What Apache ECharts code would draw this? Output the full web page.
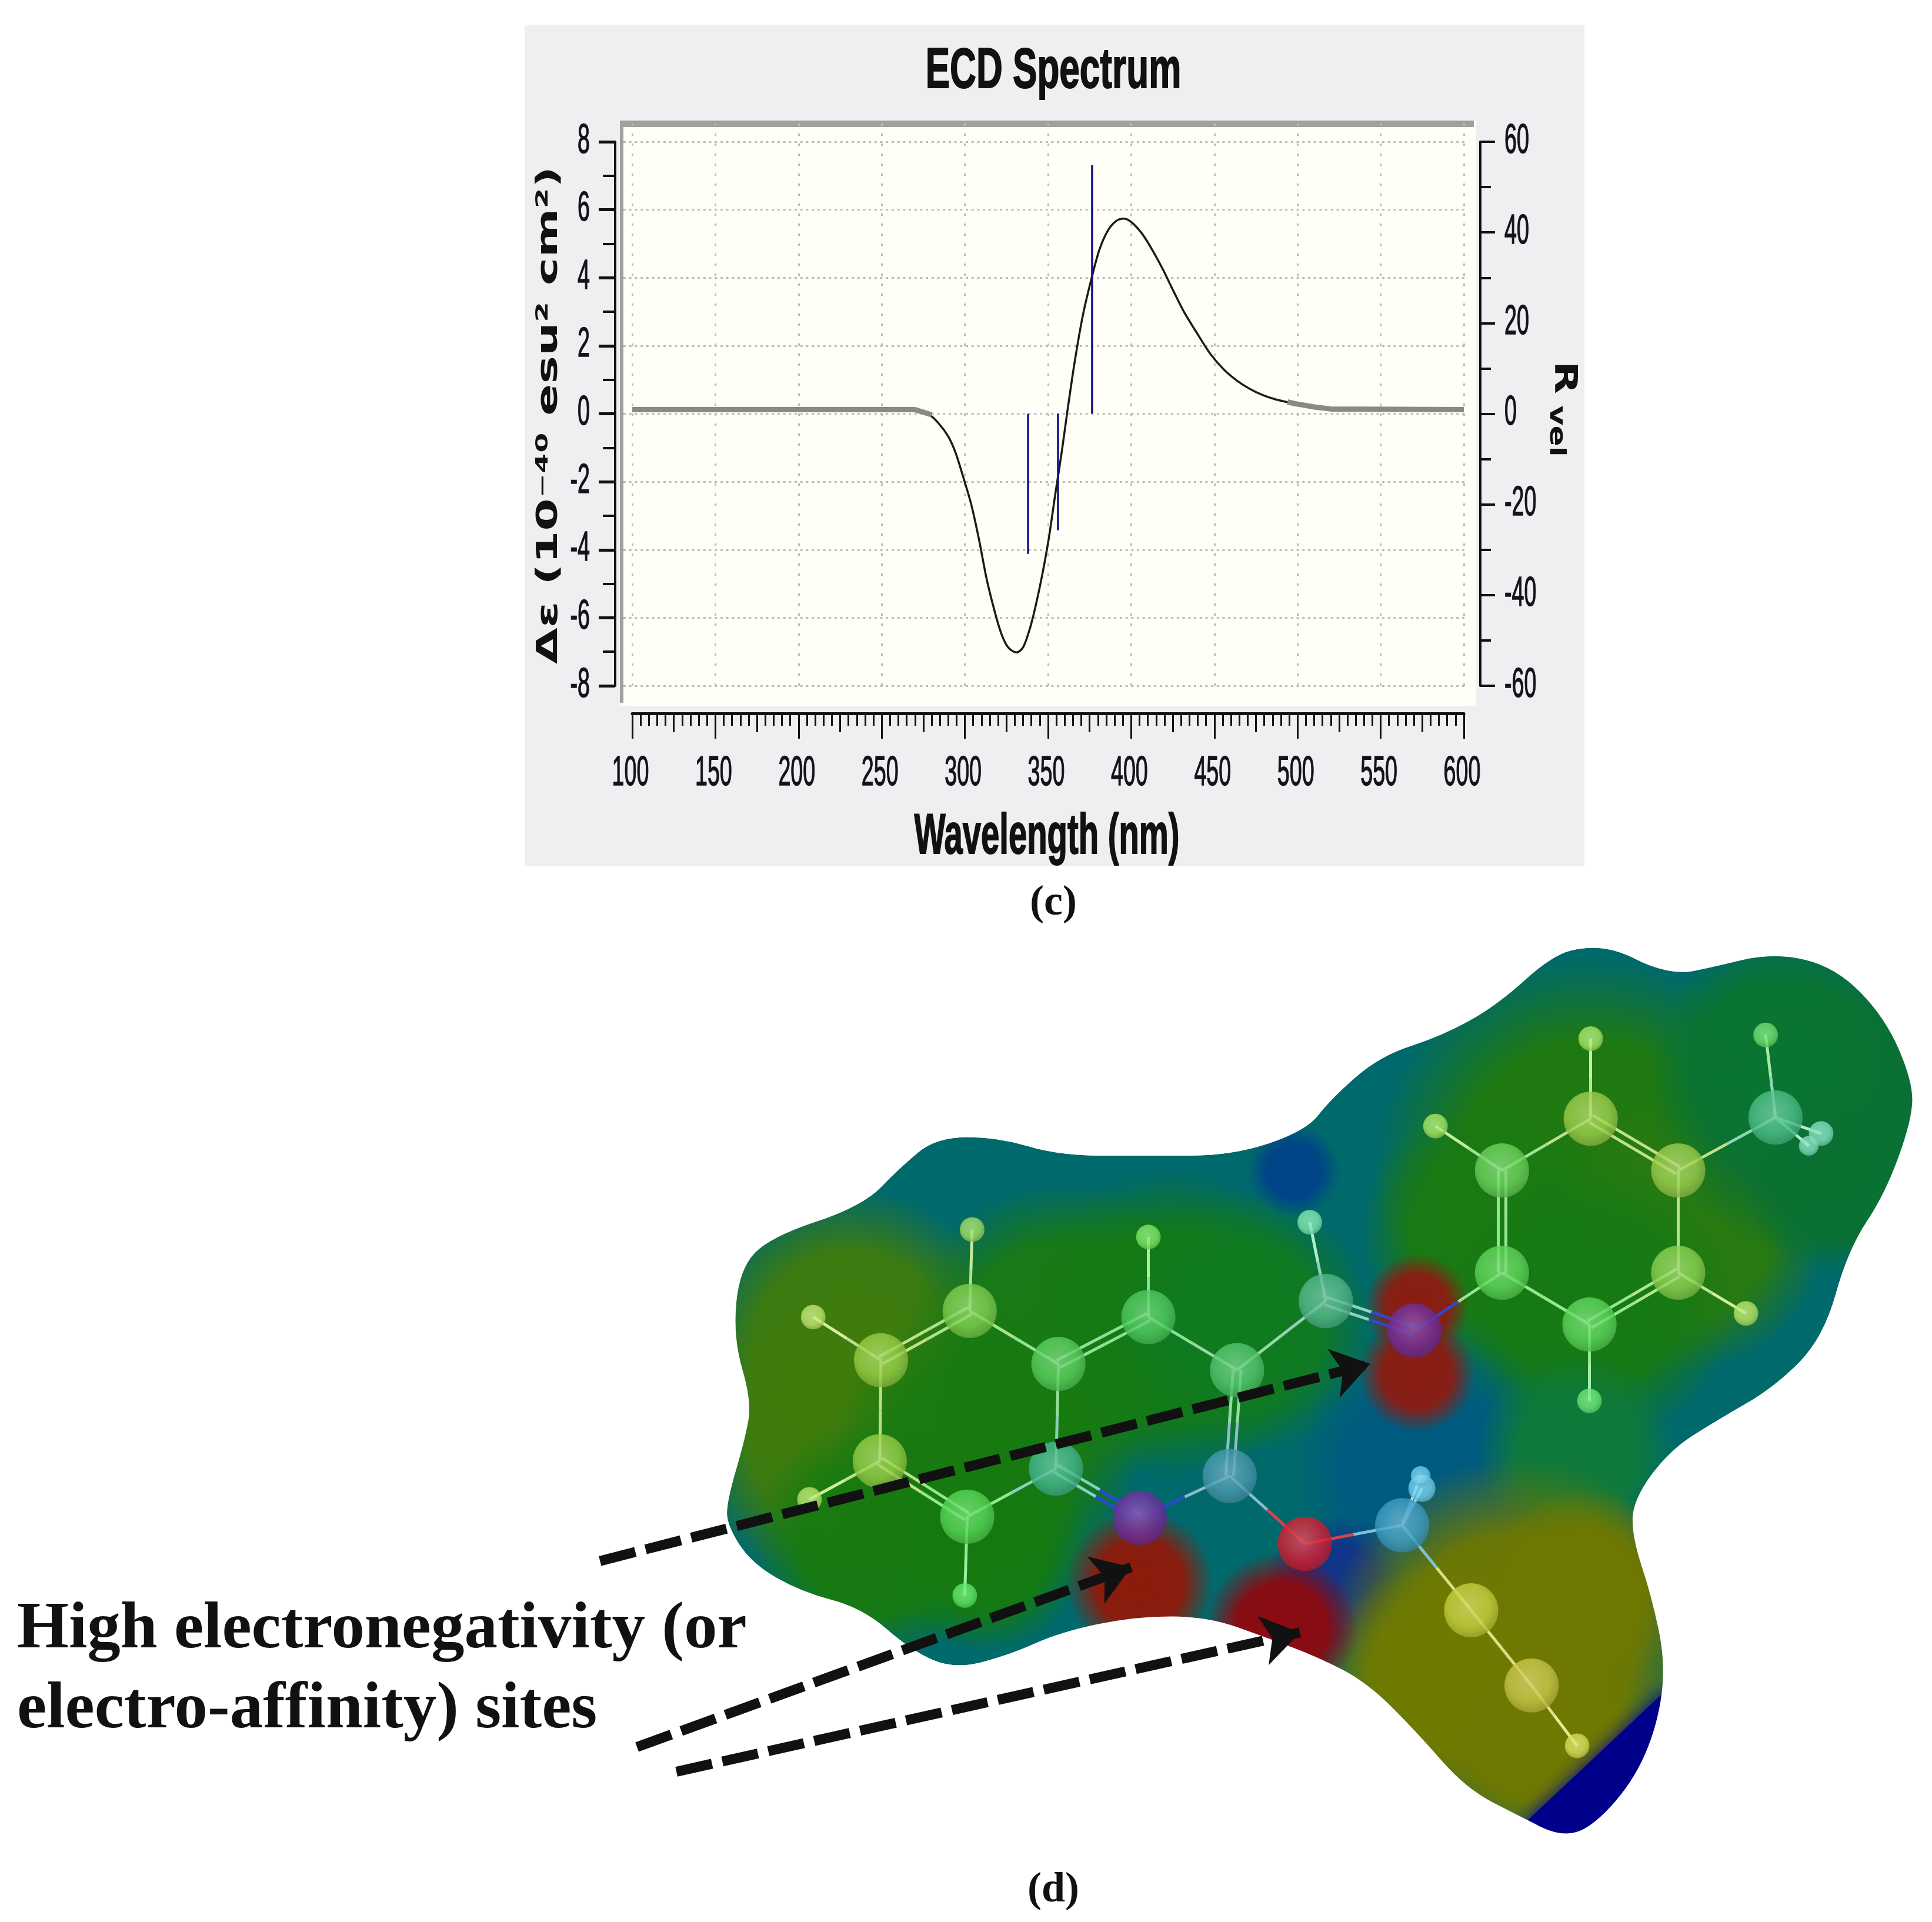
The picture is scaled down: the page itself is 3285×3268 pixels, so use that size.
<!DOCTYPE html>
<html><head><meta charset="utf-8">
<style>html,body{margin:0;padding:0;background:#fff}#c{width:3285px;height:3268px}</style>
<script src="https://cdn.jsdelivr.net/npm/echarts@6/dist/echarts.min.js"></script>
</head><body><div id="c"></div>
<script>
// ---------- ECD spectrum data ----------
const wavelength=[270,278,284,290,294.5,299,304,308.7,313,318,322,326,331,335,339,342.6,346.5,350.5,354.4,358.4,361.5,366,371,376.5,381,386,391,395.5,400,406.6,413,419,425.5,431.7,439.7,447.6,455.5,463.4,471,479,487,498,510,520];
const deltaEps=[0.12,-0.01,-0.27,-0.67,-1.16,-1.86,-2.7,-3.75,-4.84,-5.83,-6.48,-6.87,-7.02,-6.87,-6.33,-5.64,-4.74,-3.65,-2.35,-1.07,0.03,1.52,2.91,4.05,4.84,5.39,5.67,5.74,5.64,5.29,4.79,4.25,3.6,3.0,2.36,1.76,1.31,0.98,0.74,0.55,0.42,0.3,0.2,0.14];
const tailLeftX=[100,270,280], tailLeftY=[0.12,0.12,-0.03];
const tailRightX=[494,498,510,520,600], tailRightY=[0.35,0.3,0.2,0.14,0.12];
const stickX=[338,356,376.5], stickR=[-30.9,-25.7,54.8];
const xTicks=[100,150,200,250,300,350,400,450,500,550,600];
const leftTicks=[8,6,4,2,0,-2,-4,-6,-8];
const rightTicks=[60,40,20,0,-20,-40,-60];

// ---------- molecule in its own units ----------
const surfaceX=[1290,1315,1340,1365,1385,1440,1490,1530,1552,1552,1530,1500,1480,1440,1395,1355,1325,1325,1340,1352,1345,1325,1290,1265,1235,1190,1150,1110,1070,1030,980,920,860,820,775,740,700,650,610,590,590,605,610,595,600,625,700,730,760,810,860,930,1000,1060,1080,1120,1170,1215,1260];
const surfaceY=[768,772,785,790,786,773,785,826,877,908,969,1014,1086,1126,1152,1177,1218,1249,1294,1350,1401,1447,1485,1490,1475,1452,1406,1366,1345,1330,1312,1312,1325,1343,1355,1340,1305,1292,1269,1238,1218,1167,1137,1086,1030,1004,979,948,923,923,938,938,938,918,892,857,841,816,775];
const patchX=[690,680,860,950,800,710,800,1010,1290,1210,1370,1470,1440,1290,1490,1155,1280,1085,1050,1230,1170,1285,1250,1150,1150,925,1040];
const patchY=[1095,1170,1085,1075,1180,1250,1260,1075,950,1000,1000,890,860,1055,960,1195,1180,1290,950,1340,1360,1290,1410,1060,1115,1285,1322];
const patchR=[105,95,100,100,100,80,65,85,140,85,90,105,80,95,60,85,65,48,30,125,75,65,70,34,38,48,50];
const patchColor=['#3f7c0c','#3f7c0c','#1a7a14','#147a14','#177a10','#177a10','#147a10','#107a20','#207a0e','#1a7a12','#2a7a10','#0a7032','#0a7432','#167a14','#0a7032','#005a80','#0f7a3a','#10348a','#004488','#6f7800','#6f7a00','#6f7800','#6f7800','#8c1c12','#8c1c12','#8e1a0a','#8c0a10'];
const blueCornerX=[1235,1352,1400,1300], blueCornerY=[1482,1372,1420,1505];
const atomX=[1291,1219,1362,1219,1362,1290,1291,1165,1417,1290,1441,1433,1478,1468,1076,1063,1148,1004,932,932,859,787,789,715,660,714,657,785,783,857,925,998,1059,1138,1154,1153,1194,1243,1280];
const atomY=[908,950,950,1033,1033,1075,843,914,1066,1137,907,840,920,930,1056,992,1080,1112,1069,1004,1107,1064,998,1104,1069,1186,1217,1231,1295,1192,1232,1198,1253,1238,1208,1198,1307,1368,1417];
const atomR=[22,22,22,22,22,22,10,10,10,10,22,10,10,8,22,10,22,22,22,10,22,22,10,22,10,22,10,22,10,22,22,22,22,22,11,8,22,22,10];
const atomColor=['#9ed04c','#6cd45e','#9dd04e','#5fd75a','#8dd452','#5ed85c','#a8e868','#a8e868','#b8e868','#6ce878','#4fc08a','#70e070','#80e0c0','#80e0c0','#55b890','#80e8b0','#7030a0','#55c870','#50cc60','#80e868','#5cd060','#80d050','#a0e060','#98d048','#c0e870','#98d048','#b8e868','#58d858','#60e868','#45b890','#7030a0','#4a9ab0','#d82030','#40a0c8','#70d0f0','#70d0f0','#c8d040','#c8c848','#d8e058'];
const bondFrom=[0,0,0,1,1,2,2,3,3,4,4,5,10,10,10,14,14,14,17,17,18,18,20,20,21,21,23,23,25,25,27,27,29,30,31,32,33,33,33,36,37];
const bondTo  =[1,2,6,3,7,4,10,5,16,5,8,9,11,12,13,15,16,17,18,31,19,20,21,29,22,23,24,25,26,27,28,29,30,31,32,33,34,35,36,37,38];
const bondDouble=[[0,2],[1,3],[4,5],[14,16],[17,31],[18,20],[21,23],[25,27],[29,30]];
const arrowFrom=[[487,1267],[517,1418],[549,1438]];
const arrowTo=[[1112,1107],[918,1272],[1055,1325]];

// ---------- helpers ----------
const ink='#101010';
function hex(c){return [1,3,5].map(i=>parseInt(c.substr(i,2),16));}
function mix(c,t,f){const a=hex(c),b=hex(t);return 'rgb('+a.map((v,i)=>Math.round(v+(b[i]-v)*f)).join(',')+')';}
function smoothPath(xs,ys,api){
  const p=xs.map((x,i)=>api.coord([x,ys[i]])),n=p.length;
  const mid=(a,b)=>[(a[0]+b[0])/2,(a[1]+b[1])/2];
  const s=mid(p[n-1],p[0]);
  let d='M'+s[0]+' '+s[1];
  for(let i=0;i<n;i++){const m=mid(p[i],p[(i+1)%n]);d+=' Q'+p[i][0]+' '+p[i][1]+' '+m[0]+' '+m[1];}
  return d+' Z';
}
function tickText(text,x,y,align){
  return {type:'text',x:x,y:y,scaleX:0.53,silent:true,
    style:{text:String(text),font:'71px "Liberation Sans"',fill:'#141418',stroke:'#141418',lineWidth:1.5,textAlign:align,textVerticalAlign:'middle'}};
}
const dotH=[4,5.7], dotV=[4,13];
const gridGray='#bdbdb2';
const bonds=[];
bondFrom.forEach((a,i)=>{
  const b=bondTo[i];
  const dbl=bondDouble.some(d=>d[0]===a&&d[1]===b);
  const dx=atomX[b]-atomX[a],dy=atomY[b]-atomY[a],L=Math.hypot(dx,dy);
  const offs=dbl?[[ -dy/L*3.2, dx/L*3.2],[ dy/L*3.2,-dx/L*3.2]]:[[0,0]];
  const bondCol=k=>atomColor[k]==='#7030a0'?'#3048d0':atomColor[k]==='#d82030'?'#e04048':mix(atomColor[k],'#ffffff',0.35);
  offs.forEach(o=>{
    const m=[(atomX[a]+atomX[b])/2+o[0],(atomY[a]+atomY[b])/2+o[1]];
    bonds.push({coords:[[atomX[a]+o[0],atomY[a]+o[1]],m],lineStyle:{color:bondCol(a)}});
    bonds.push({coords:[m,[atomX[b]+o[0],atomY[b]+o[1]]],lineStyle:{color:bondCol(b)}});
  });
});
const atoms=atomX.map((x,i)=>({value:[x,atomY[i]],symbolSize:atomR[i]*2*2.095,
  itemStyle:{color:{type:'radial',x:0.46,y:0.42,r:0.58,colorStops:[
    {offset:0,color:mix(atomColor[i],'#ffffff',0.22)},{offset:0.65,color:atomColor[i]},{offset:1,color:mix(atomColor[i],'#000000',0.18)}]}}}));

const hideAxis={axisLine:{show:false},axisTick:{show:false},axisLabel:{show:false},splitLine:{show:false}};
const option={
  animation:false,backgroundColor:'#ffffff',
  grid:[
    {left:1075,width:1414,top:241,height:925},
    {left:1075,width:1414,top:210,height:968},
    {left:1060,width:1431,top:241,height:925},
    {left:0,width:3285,top:0,height:3268}
  ],
  xAxis:[
    {gridIndex:0,type:'value',min:100,max:600,interval:25,position:'bottom',offset:47,
      axisLine:{onZero:false,lineStyle:{color:ink,width:5}},
      axisTick:{length:32,lineStyle:{color:ink,width:3}},
      minorTick:{show:true,splitNumber:5,length:21,lineStyle:{color:ink,width:3}},
      axisLabel:{show:false},splitLine:{show:false}},
    {gridIndex:0,type:'value',min:100,max:600,interval:50,position:'bottom',offset:47,
      axisLine:{show:false,onZero:false},axisTick:{length:43,lineStyle:{color:ink,width:3}},
      axisLabel:{show:false},splitLine:{show:false}},
    {gridIndex:1,type:'value',min:100,max:600,interval:50,position:'bottom',
      axisLine:{show:false,onZero:false},axisTick:{show:false},axisLabel:{show:false},
      splitLine:{show:true,lineStyle:{color:gridGray,width:3,type:dotV}}},
    {gridIndex:2,type:'value',min:0,max:1,...hideAxis},
    {gridIndex:3,type:'value',min:0,max:1568,show:false},
  ],
  yAxis:[
    {gridIndex:0,type:'value',min:-8,max:8,interval:2,position:'left',offset:29,
      axisLine:{show:true,onZero:false,lineStyle:{color:ink,width:4}},
      axisTick:{show:true,length:28,lineStyle:{color:ink,width:5}},
      minorTick:{show:true,splitNumber:2,length:21,lineStyle:{color:ink,width:4}},
      axisLabel:{show:false},splitLine:{show:false}},
    {gridIndex:0,type:'value',min:-60,max:60,interval:20,position:'right',offset:28,
      axisLine:{show:true,onZero:false,lineStyle:{color:ink,width:4}},
      axisTick:{show:true,length:25,lineStyle:{color:ink,width:4}},
      minorTick:{show:true,splitNumber:2,length:18,lineStyle:{color:ink,width:4}},
      axisLabel:{show:false},splitLine:{show:false}},
    {gridIndex:1,type:'value',min:0,max:1,...hideAxis},
    {gridIndex:2,type:'value',min:-8,max:8,interval:2,
      axisLine:{show:false,onZero:false},axisTick:{show:false},axisLabel:{show:false},
      splitLine:{show:true,lineStyle:{color:gridGray,width:3,type:dotH}}},
    {gridIndex:3,type:'value',min:0,max:1560,inverse:true,show:false},
  ],
  graphic:{elements:[
    {type:'rect',z:-20,shape:{x:892,y:42,width:1802,height:1431},style:{fill:'#eeeff1'}},
    {type:'rect',z:-19,shape:{x:1054,y:205,width:1456,height:995},style:{fill:'#fffff8'}},
    {type:'rect',z:-18,shape:{x:1054,y:205,width:1452,height:11},style:{fill:'#a0a09c'}},
    {type:'rect',z:-18,shape:{x:1054,y:205,width:6,height:990},style:{fill:'#a0a09c'}},
    {type:'text',z:20,x:1791,y:122,scaleX:0.64,style:{text:'ECD Spectrum',font:'bold 97px "Liberation Sans"',fill:'#111',stroke:'#111',lineWidth:2,textAlign:'center',textVerticalAlign:'middle'}},
    {type:'text',z:20,x:1780,y:1424,scaleX:0.58,style:{text:'Wavelength (nm)',font:'bold 97px "Liberation Sans"',fill:'#111',stroke:'#111',lineWidth:2,textAlign:'center',textVerticalAlign:'middle'}},
    {type:'text',z:20,x:934,y:706,rotation:Math.PI/2,scaleX:1.6,style:{text:'Δε (10⁻⁴⁰ esu² cm²)',font:'bold 50px "DejaVu Sans"',fill:'#111',textAlign:'center',textVerticalAlign:'middle'}},
    {type:'text',z:20,x:2658,y:642,rotation:-Math.PI/2,scaleX:1.37,style:{text:'R',font:'bold 53px "DejaVu Sans"',fill:'#111',textAlign:'center',textVerticalAlign:'middle'}},
    {type:'text',z:20,x:2646,y:733,rotation:-Math.PI/2,scaleX:1.37,style:{text:'vel',font:'bold 38px "DejaVu Sans"',fill:'#111',textAlign:'center',textVerticalAlign:'middle'}},
    {type:'text',z:20,x:1791,y:1536,style:{text:'(c)',font:'bold 72px "Liberation Serif"',fill:'#111',textAlign:'center',textVerticalAlign:'middle'}},
    {type:'text',z:20,x:1791,y:3214,style:{text:'(d)',font:'bold 72px "Liberation Serif"',fill:'#111',textAlign:'center',textVerticalAlign:'middle'}},
    {type:'text',z:20,x:29,y:2772,style:{text:'High electronegativity (or',font:'bold 113px "Liberation Serif"',fill:'#111',textAlign:'left',textVerticalAlign:'middle'}},
    {type:'text',z:20,x:29,y:2908,style:{text:'electro-affinity) sites',font:'bold 113px "Liberation Serif"',fill:'#111',textAlign:'left',textVerticalAlign:'middle'}},
  ]},
  series:[
    {name:'Δε',type:'line',xAxisIndex:0,yAxisIndex:0,showSymbol:false,symbol:'none',smooth:0.3,
      data:wavelength.map((x,i)=>[x,deltaEps[i]]),lineStyle:{color:'#1c1c16',width:3.5},z:4},
    {name:'baseline left',type:'line',xAxisIndex:0,yAxisIndex:0,symbol:'none',
      data:tailLeftX.map((x,i)=>[x,tailLeftY[i]]),lineStyle:{color:'#8a8a80',width:9},z:5},
    {name:'baseline right',type:'line',xAxisIndex:0,yAxisIndex:0,symbol:'none',
      data:tailRightX.map((x,i)=>[x,tailRightY[i]]),lineStyle:{color:'#8a8a80',width:9},z:5},
    {name:'Rvel',type:'bar',xAxisIndex:0,yAxisIndex:1,barWidth:3.5,
      data:stickX.map((x,i)=>[x,stickR[i]]),itemStyle:{color:'#12127e'},z:6},
    {type:'custom',xAxisIndex:1,yAxisIndex:0,silent:true,data:xTicks.map(v=>[v,-8]),z:10,
      renderItem:(p,api)=>tickText(api.value(0),api.coord([api.value(0),-8])[0]-3,1315,'center')},
    {type:'custom',xAxisIndex:0,yAxisIndex:0,silent:true,data:leftTicks.map(v=>[100,v]),z:10,
      renderItem:(p,api)=>tickText(api.value(1),1003,api.coord([100,api.value(1)])[1]-1,'right')},
    {type:'custom',xAxisIndex:0,yAxisIndex:1,silent:true,data:rightTicks.map(v=>[100,v]),z:10,
      renderItem:(p,api)=>tickText(api.value(1),2558,api.coord([100,api.value(1)])[1]-1,'left')},
    // molecular surface
    {type:'custom',xAxisIndex:4,yAxisIndex:4,silent:true,data:[[0,0]],z:11,
      renderItem:(p,api)=>({type:'path',shape:{pathData:smoothPath(surfaceX,surfaceY,api)},style:{fill:'#00696c'}})},
    {type:'custom',xAxisIndex:4,yAxisIndex:4,silent:true,z:12,data:patchX.map((x,i)=>[x,patchY[i],patchR[i]]),
      renderItem:(p,api)=>{
        const i=p.dataIndex,c=api.coord([api.value(0),api.value(1)]),r=api.size([api.value(2),0])[0];
        const col=patchColor[i],rgb=hex(col).join(',');
        return {type:'circle',shape:{cx:c[0],cy:c[1],r:r*1.25},style:{fill:{type:'radial',x:0.5,y:0.5,r:0.5,colorStops:[
          {offset:0,color:'rgba('+rgb+',1)'},{offset:0.6,color:'rgba('+rgb+',0.95)'},{offset:1,color:'rgba('+rgb+',0)'}]}}};
      }},
    {type:'custom',xAxisIndex:4,yAxisIndex:4,silent:true,z:13,data:[[0,0]],
      renderItem:(p,api)=>({type:'polygon',shape:{points:blueCornerX.map((x,i)=>api.coord([x,blueCornerY[i]]))},
        style:{fill:'#00008a',shadowBlur:30,shadowColor:'#00008a'}})},
    // white surround that trims the colour patches to the surface outline
    {type:'custom',xAxisIndex:4,yAxisIndex:4,silent:true,z:14,data:[[0,0]],
      renderItem:(p,api)=>{
        const a=api.coord([470,745]),b=api.coord([1568,1525]);
        const d='M'+a[0]+' '+a[1]+' L'+a[0]+' '+b[1]+' L'+b[0]+' '+b[1]+' L'+b[0]+' '+a[1]+' Z '+smoothPath(surfaceX,surfaceY,api);
        return {type:'path',shape:{pathData:d},style:{fill:'#ffffff'}};
      }},
    {type:'lines',coordinateSystem:'cartesian2d',xAxisIndex:4,yAxisIndex:4,silent:true,z:15,data:bonds,lineStyle:{width:5,opacity:1}},
    {type:'scatter',xAxisIndex:4,yAxisIndex:4,silent:true,z:16,data:atoms},
    {type:'lines',coordinateSystem:'cartesian2d',xAxisIndex:4,yAxisIndex:4,silent:true,z:17,
      symbol:['none','arrow'],symbolSize:64,
      lineStyle:{color:'#111',width:17,opacity:1,type:[62,18]},
      data:arrowFrom.map((a,i)=>({coords:[a,arrowTo[i]]}))},
  ]
};
const chart=echarts.init(document.getElementById('c'),null,{width:3285,height:3268});
chart.setOption(option);
</script></body></html>
